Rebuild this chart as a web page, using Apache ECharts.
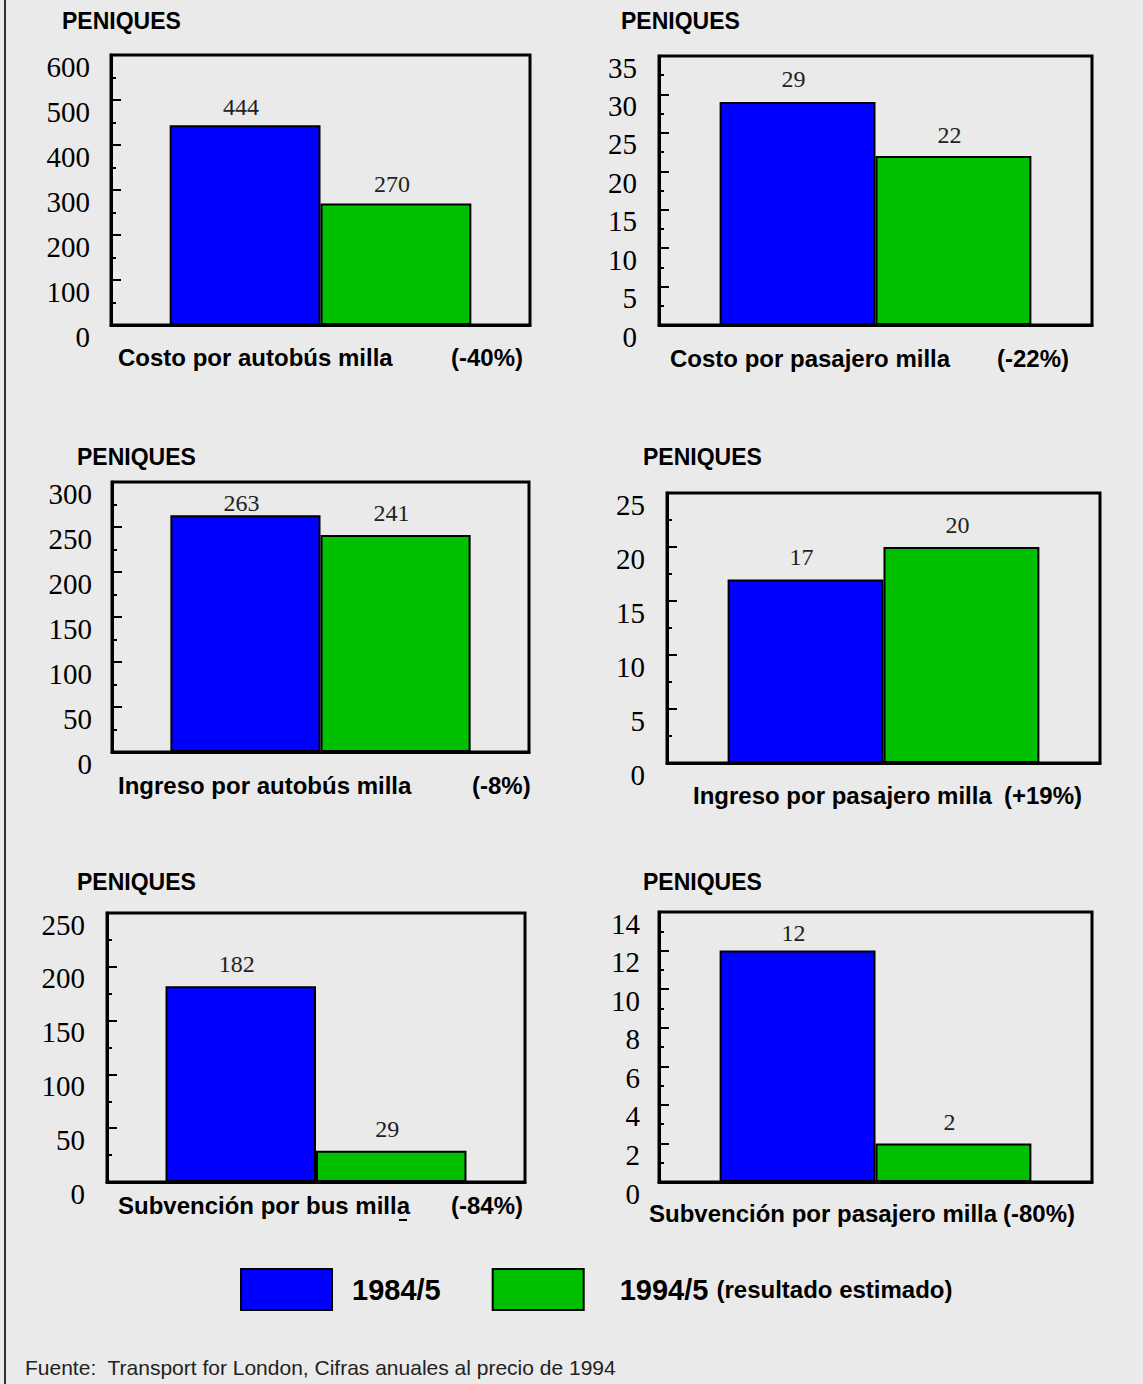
<!DOCTYPE html>
<html>
<head>
<meta charset="utf-8">
<title>Costos, ingresos y subvenciones por milla</title>
<script src="https://cdn.jsdelivr.net/npm/echarts@6/dist/echarts.min.js"></script>
<style>
  html, body { margin: 0; padding: 0; background: #eaeaea; }
  #chart { width: 1143px; height: 1384px; }
</style>
</head>
<body>
<div id="chart"></div>
<script>
// Per-mile figures, pence at 1994 prices
const categories = [
  'Costo por autobús milla',
  'Costo por pasajero milla',
  'Ingreso por autobús milla',
  'Ingreso por pasajero milla',
  'Subvención por bus milla',
  'Subvención por pasajero milla'
];
const changeLabels = ['(-40%)', '(-22%)', '(-8%)', '(+19%)', '(-84%)', '(-80%)'];
const values1984 = [444, 29, 263, 17, 182, 12];
const values1994 = [270, 22, 241, 20, 29, 2];
const axisMax = [600, 35, 300, 25, 250, 14];
const axisStep = [100, 5, 50, 5, 50, 2];
const seriesNames = ['1984/5', '1994/5'];
const legendNote = '(resultado estimado)';
const unitLabel = 'PENIQUES';
const sourceNote = 'Fuente:  Transport for London, Cifras anuales al precio de 1994';

// Panel placement: plot box [left, top, width, height], unit caption, caption row,
// tick-label margin and value-label lift
const panels = [
  { box: [111, 55, 419, 270],  unit: [62, 21],   title: [118, 357],  change: [451, 357],  margin: 21, lift: [6, 8] },
  { box: [659, 56, 433, 269],  unit: [621, 21],  title: [670, 358],  change: [997, 358],  margin: 22, lift: [11, 9] },
  { box: [112, 482, 417, 270], unit: [77, 457],  title: [118, 785],  change: [472, 785],  margin: 20, lift: [0, 10] },
  { box: [667, 493, 433, 270], unit: [643, 457], title: [693, 795],  change: [1004, 795], margin: 22, lift: [10, 10] },
  { box: [107, 913, 418, 269], unit: [77, 882],  title: [118, 1205], change: [451, 1205], margin: 22, lift: [10, 10] },
  { box: [659, 912, 433, 270], unit: [643, 882], title: [649, 1213], change: [1003, 1213], margin: 19, lift: [6, 9] }
];

const SANS = '"Liberation Sans", Arial, Helvetica, sans-serif';
const SERIF = '"Liberation Serif", "Times New Roman", Times, serif';
const BLUE = '#0000ff';
const GREEN = '#00c000';
const INK = '#000000';

const grid = [], xAxis = [], yAxis = [], series = [], graphic = [];

panels.forEach((p, i) => {
  grid.push({
    left: p.box[0], top: p.box[1], width: p.box[2], height: p.box[3],
    show: true, borderColor: '#000', borderWidth: 3, backgroundColor: 'transparent',
    containLabel: false
  });
  xAxis.push({
    gridIndex: i, type: 'category', data: [categories[i]],
    axisLine: { show: true, lineStyle: { color: '#000', width: 3 } },
    axisTick: { show: false }, axisLabel: { show: false }, splitLine: { show: false }
  });
  yAxis.push({
    gridIndex: i, type: 'value', min: 0, max: axisMax[i], interval: axisStep[i],
    axisLine: { show: true, lineStyle: { color: '#000', width: 3 } },
    axisTick: { show: true, inside: true, length: 10, lineStyle: { color: '#000', width: 2 } },
    minorTick: { show: true, splitNumber: 2, length: 5, lineStyle: { color: '#000', width: 2 } },
    splitLine: { show: false },
    axisLabel: {
      show: true, margin: p.margin, color: INK, fontFamily: SERIF, fontSize: 29,
      verticalAlign: 'top', lineHeight: 23,
      showMinLabel: true, showMaxLabel: true, hideOverlap: false
    }
  });
  [values1984, values1994].forEach((vals, k) => {
    series.push({
      name: seriesNames[k], type: 'bar', xAxisIndex: i, yAxisIndex: i,
      barGap: '0%', barCategoryGap: '28%',
      itemStyle: { color: k === 0 ? BLUE : GREEN, borderColor: '#000', borderWidth: 2 },
      label: {
        show: true, position: 'top', color: '#222', fontFamily: SERIF, fontSize: 24,
        offset: [-4, 0], formatter: '{c}'
      },
      emphasis: { disabled: true },
      data: [{ value: vals[i], label: { distance: p.lift[k] } }]
    });
  });
  graphic.push(
    { type: 'text', x: p.unit[0], y: p.unit[1], silent: true,
      style: { text: unitLabel, font: 'bold 23px ' + SANS, fill: INK, align: 'left', verticalAlign: 'middle' } },
    { type: 'text', x: p.title[0], y: p.title[1], silent: true,
      style: { text: categories[i], font: 'bold 24px ' + SANS, fill: INK, align: 'left', verticalAlign: 'middle' } },
    { type: 'text', x: p.change[0], y: p.change[1], silent: true,
      style: { text: changeLabels[i], font: 'bold 24px ' + SANS, fill: INK, align: 'left', verticalAlign: 'middle' } }
  );
});

// stray underscore beneath "milla" in the bus subsidy caption
graphic.push({ type: 'rect', silent: true, shape: { x: 399, y: 1219, width: 8, height: 2 }, style: { fill: INK } });
// page frame on the left edge
graphic.push({ type: 'line', silent: true, shape: { x1: 5, y1: 0, x2: 5, y2: 1384 }, style: { stroke: '#333', lineWidth: 2 } });
// source line
graphic.push({ type: 'text', x: 25, y: 1367, silent: true,
  style: { text: sourceNote, font: '21px ' + SANS, fill: '#222', align: 'left', verticalAlign: 'middle' } });

const chart = echarts.init(document.getElementById('chart'), null, { renderer: 'svg' });
chart.setOption({
  backgroundColor: '#eaeaea',
  animation: false,
  grid, xAxis, yAxis, series, graphic,
  legend: {
    left: 240, top: 1268, orient: 'horizontal', padding: 0,
    itemWidth: 91, itemHeight: 41, itemGap: 51,
    icon: 'rect', selectedMode: false,
    itemStyle: { borderColor: '#000', borderWidth: 2 },
    textStyle: {
      fontFamily: SANS, fontSize: 29, fontWeight: 'bold', color: INK,
      rich: {
        note: { fontFamily: SANS, fontSize: 24, fontWeight: 'bold', color: INK }
      }
    },
    formatter: name => name === seriesNames[1] ? name + ' {note|' + legendNote + '}' : name,
    data: [
      { name: seriesNames[0], textStyle: { padding: [0, 0, 0, 15] } },
      { name: seriesNames[1], textStyle: { padding: [0, 0, 0, 31] } }
    ]
  }
});
</script>
</body>
</html>
